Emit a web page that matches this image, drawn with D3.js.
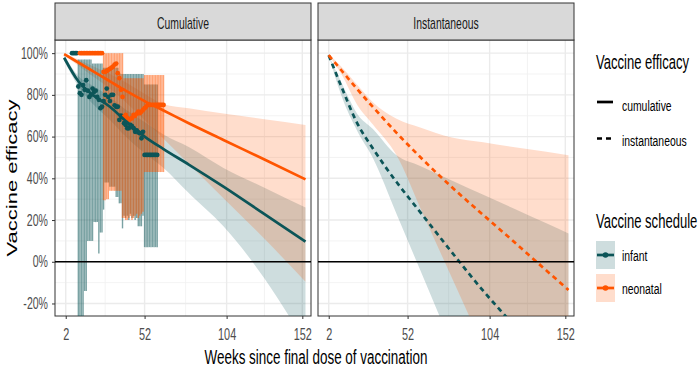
<!DOCTYPE html>
<html>
<head>
<meta charset="utf-8">
<script src="https://cdn.jsdelivr.net/npm/d3@7"></script>
<style>
  body { margin: 0; background: #fff; }
  text { font-family: "Liberation Sans", Arial, sans-serif; }
</style>
</head>
<body>
<svg id="chart" width="700" height="375"></svg>
<script>
// ---- data (percent vaccine efficacy by week since final dose) ----
const facets = ["Cumulative", "Instantaneous"];
const xTicks = [2, 52, 104, 152];
const yTicks = [-20, 0, 20, 40, 60, 80, 100];

// fitted cumulative curves
const cumWeek = [1, 10, 20, 30, 40, 52, 64, 80, 102, 128, 154];
const cumInfantEst = [97.8, 86.5, 79.5, 74.3, 67.5, 60, 54, 46.6, 36, 22.8, 9.6];
const cumInfantLow = [96.5, 84, 75, 68, 60, 52, 45, 33, 17, -8, -39];
const cumInfantHigh = [99, 89, 84, 79, 73, 67, 61, 55, 45, 35.5, 26];
const cumNeoEst = [99.5, 95.5, 91, 86.5, 82, 77, 72.5, 66.4, 58.4, 49, 39.5];
const cumNeoLow = [99, 94, 88.5, 83, 76.5, 68, 59, 47, 30.5, 11, -9.6];
const cumNeoHigh = [100, 97, 93.5, 90, 86, 80.5, 75.5, 73.6, 71.1, 68.3, 65.6];

// fitted instantaneous curves
const instWeek = [2, 10, 20, 30, 45, 60, 80, 100, 120, 140, 154];
const instInfantEst = [99, 84, 66.5, 54.3, 38.2, 23.8, 4.6, -14, -31, -48, -60];
const instInfantLow = [99, 79.7, 62.8, 49.7, 22.9, -4, -40, -76, -112, -148, -173];
const instInfantHigh = [99, 86, 71, 63.6, 51, 45.9, 39, 32.1, 25.3, 18.4, 13.6];
const instNeoEst = [99, 91.8, 82.8, 74.2, 61.8, 50.2, 35.8, 22.4, 9.2, -4.2, -13.5];
const instNeoLow = [99, 90, 75.3, 65.8, 51, 25.9, -7.6, -41, -75, -108, -132];
const instNeoHigh = [99.5, 93.5, 84.9, 76.5, 68.6, 64.4, 59.6, 57.3, 54.9, 52.7, 51];

// observed weekly estimates with intervals (cumulative panel)
const infantWeek = [6, 7, 8, 9, 10, 11, 12, 13, 14, 15, 16, 17, 18, 19, 20, 21, 22, 23, 24, 25,
  26, 27, 28, 29, 30, 31, 32, 33, 34, 35, 36, 37, 38, 39, 40, 41, 42, 43, 44, 45,
  46, 47, 48, 49, 50, 51, 52, 53, 54, 55, 56, 57, 58, 59, 60];
const infantEst = [100, 100, 100, 100, 84, 80.8, 80, 84.7, 82.4, 87, 82, 79, 80, 83, 81.5, 82, 79, 77.6, 73.6, 74.3,
  77, 80, 83, 79, 77, 80, 80, 75, 74.3, 74.3, 68, 70, 69.5, 66.4, 65.6, 64, 64, 65.6, 65, 64,
  62.3, 63, 62, 61.6, 59.2, 62.3, 51.2, 51.2, 51.2, 51.2, 51.2, 51.2, 51.2, 51.2, 51.2];
const infantLow = [100, 100, 100, 100, -30, -30, -30, -30, -14, -14, 10, 10, 10, 10, 19, 19, 19, 4, 14, 14,
  25, 38, 38, 38, 36, 36, 36, 36, 31, 31, 28, 28, 16, 22, 21, 22, 20, 23, 21, 22,
  20, 21, 17, 17, 17, 22, 7, 7, 7, 7, 7, 7, 7, 7, 7];
const infantHigh = [100, 100, 100, 100, 97, 97, 97, 97, 97, 97, 97, 97, 97, 95, 95, 95, 95, 95, 95, 95,
  93, 93, 93, 93, 93, 93, 93, 93, 93, 93, 90, 90, 90, 90, 90, 90, 90, 90, 90, 90,
  90, 90, 90, 90, 90, 90, 85, 85, 85, 85, 85, 85, 85, 85, 85];

const neoWeek = [11, 12, 13, 14, 15, 16, 17, 18, 19, 20, 21, 22, 23, 24, 25, 26, 27, 28, 29, 30,
  31, 32, 33, 34, 35, 36, 37, 38, 39, 40, 41, 42, 43, 44, 45, 46, 47, 48, 49, 50,
  51, 52, 53, 54, 55, 56, 57, 58, 59, 60, 61, 62, 63, 64];
const neoEst = [100, 100, 100, 100, 100, 100, 100, 100, 100, 100, 100, 100, 100, 100, 100, 91, 91, 91.5, 92, 92.5,
  93, 93.5, 94.5, 95, 90.4, 88, 82.4, 79, 69.5, 70.4, 69, 68, 68.5, 68.8, 70.4, 70, 71, 72, 71.2, 72,
  72.8, 73.6, 74.3, 75.2, 75.2, 75.2, 75.2, 75.2, 75.2, 75.2, 75.2, 75.2, 75.2, 75.2];
const neoLow = [100, 100, 100, 100, 100, 100, 100, 100, 100, 100, 100, 100, 100, 100, 100, 29.5, 29.5, 30, 30, 34,
  34, 34, 34, 34, 34, 34, 34, 21, 21, 20, 20, 21, 22, 20, 21, 22, 23, 21, 22, 23,
  24, 43, 43, 43, 43, 43, 43, 43, 43, 43, 43, 43, 43, 43];
const neoHigh = [100, 100, 100, 100, 100, 100, 100, 100, 100, 100, 100, 100, 100, 100, 100, 100, 100, 100, 100, 100,
  100, 100, 100, 100, 100, 100, 100, 100, 88, 88, 88, 88, 88, 88, 88, 88, 88, 88, 88, 88,
  88, 89.5, 89.5, 89.5, 89.5, 89.5, 89.5, 89.5, 89.5, 89.5, 89.5, 89.5, 89.5, 89.5];

const teal = "#0c5558";
const orange = "#ff5500";
const squeeze = 0.66; // reference text is horizontally narrow

const svg = d3.select("#chart");
const panelTop = 40, panelBottom = 316;

const xLeft = d3.scaleLinear().domain([-4.8, 157.5]).range([55, 311]);
const xRight = d3.scaleLinear().domain([-4.8, 157.5]).range([318, 574]);
const y = d3.scaleLinear().domain([-26, 106.3]).range([panelBottom, panelTop]);

function addText(parent, x, yPos, str, size, opts) {
  opts = opts || {};
  return parent.append("text")
    .attr("transform", "translate(" + x + "," + yPos + ") scale(" + (opts.sx || squeeze) + ",1)" + (opts.rotate ? " rotate(-90)" : ""))
    .attr("text-anchor", opts.anchor || "start")
    .attr("font-size", size)
    .attr("fill", opts.color || "#000")
    .text(str);
}

const defs = svg.append("defs");

function drawPanel(x, title, clipId) {
  const [x0, x1] = x.range();
  const g = svg.append("g");

  g.append("rect")
    .attr("x", x0).attr("y", panelTop)
    .attr("width", x1 - x0).attr("height", panelBottom - panelTop)
    .attr("fill", "#fff");

  // minor grid
  const minorX = d3.pairs(xTicks).map(p => (p[0] + p[1]) / 2);
  const minorY = d3.pairs(yTicks).map(p => (p[0] + p[1]) / 2);
  g.selectAll("line.minx").data(minorX).join("line")
    .attr("x1", d => x(d)).attr("x2", d => x(d))
    .attr("y1", panelTop).attr("y2", panelBottom)
    .attr("stroke", "#f0f0f0").attr("stroke-width", 0.8);
  g.selectAll("line.miny").data(minorY).join("line")
    .attr("x1", x0).attr("x2", x1)
    .attr("y1", d => y(d)).attr("y2", d => y(d))
    .attr("stroke", "#f0f0f0").attr("stroke-width", 0.8);
  // major grid
  g.selectAll("line.majx").data(xTicks).join("line")
    .attr("x1", d => x(d)).attr("x2", d => x(d))
    .attr("y1", panelTop).attr("y2", panelBottom)
    .attr("stroke", "#ebebeb").attr("stroke-width", 1.4);
  g.selectAll("line.majy").data(yTicks).join("line")
    .attr("x1", x0).attr("x2", x1)
    .attr("y1", d => y(d)).attr("y2", d => y(d))
    .attr("stroke", "#ebebeb").attr("stroke-width", 1.4);

  defs.append("clipPath").attr("id", clipId)
    .append("rect")
    .attr("x", x0).attr("y", panelTop)
    .attr("width", x1 - x0).attr("height", panelBottom - panelTop);

  const content = svg.append("g").attr("clip-path", "url(#" + clipId + ")");

  // strip
  svg.append("rect")
    .attr("x", x0).attr("y", 3)
    .attr("width", x1 - x0).attr("height", panelTop - 3)
    .attr("fill", "#d9d9d9").attr("stroke", "#333").attr("stroke-width", 1);
  addText(svg, (x0 + x1) / 2, 29, title, 16, {anchor: "middle", color: "#1a1a1a", sx: 0.65});

  // bottom axis
  const ax = svg.append("g")
    .attr("transform", "translate(0," + panelBottom + ")")
    .call(d3.axisBottom(x).tickValues(xTicks).tickSize(3));
  ax.select(".domain").remove();
  ax.selectAll("line").attr("stroke", "#333");
  ax.selectAll("text")
    .attr("y", 0)
    .attr("font-size", 16.5)
    .attr("font-family", "Liberation Sans, Arial, sans-serif")
    .attr("fill", "#4d4d4d")
    .attr("transform", "translate(0,12) scale(" + squeeze + ",1)");

  return {content: content, frame: () => g.append("rect")
    .attr("x", x0).attr("y", panelTop)
    .attr("width", x1 - x0).attr("height", panelBottom - panelTop)
    .attr("fill", "none").attr("stroke", "#333").attr("stroke-width", 1)};
}

function ribbon(g, x, weeks, low, high, color) {
  const area = d3.area()
    .x(d => x(d[0])).y0(d => y(d[1])).y1(d => y(d[2]))
    .curve(d3.curveMonotoneX);
  g.append("path").datum(d3.zip(weeks, low, high))
    .attr("d", area).attr("fill", color).attr("fill-opacity", 0.2);
}

function curve(g, x, weeks, est, color, dashed) {
  const line = d3.line()
    .x(d => x(d[0])).y(d => y(d[1]))
    .curve(d3.curveMonotoneX);
  g.append("path").datum(d3.zip(weeks, est))
    .attr("d", line).attr("fill", "none")
    .attr("stroke", color).attr("stroke-width", 2.7)
    .attr("stroke-dasharray", dashed ? "5,4" : null);
}

function pointRange(g, x, weeks, est, low, high, color) {
  const rows = d3.zip(weeks, est, low, high);
  g.append("g").selectAll("line").data(rows).join("line")
    .attr("x1", d => x(d[0])).attr("x2", d => x(d[0]))
    .attr("y1", d => y(d[2])).attr("y2", d => y(d[3]))
    .attr("stroke", color).attr("stroke-width", 1.4).attr("stroke-opacity", 0.55);
  return rows;
}

function points(g, x, rows, color) {
  g.append("g").selectAll("circle").data(rows).join("circle")
    .attr("cx", d => x(d[0])).attr("cy", d => y(d[1]))
    .attr("r", 2.4).attr("fill", color);
}

// ---- left panel: cumulative ----
const left = drawPanel(xLeft, facets[0], "clipLeft");
ribbon(left.content, xLeft, cumWeek, cumInfantLow, cumInfantHigh, teal);
ribbon(left.content, xLeft, cumWeek, cumNeoLow, cumNeoHigh, orange);
const infRows = pointRange(left.content, xLeft, infantWeek, infantEst, infantLow, infantHigh, teal);
const neoRows = pointRange(left.content, xLeft, neoWeek, neoEst, neoLow, neoHigh, orange);
points(left.content, xLeft, infRows, teal);
points(left.content, xLeft, neoRows, orange);
curve(left.content, xLeft, cumWeek, cumInfantEst, teal, false);
curve(left.content, xLeft, cumWeek, cumNeoEst, orange, false);
left.content.append("line")
  .attr("x1", 55).attr("x2", 311).attr("y1", y(0)).attr("y2", y(0))
  .attr("stroke", "#000").attr("stroke-width", 1.4);
left.frame();

// ---- right panel: instantaneous ----
const right = drawPanel(xRight, facets[1], "clipRight");
ribbon(right.content, xRight, instWeek, instInfantLow, instInfantHigh, teal);
ribbon(right.content, xRight, instWeek, instNeoLow, instNeoHigh, orange);
curve(right.content, xRight, instWeek, instInfantEst, teal, true);
curve(right.content, xRight, instWeek, instNeoEst, orange, true);
right.content.append("line")
  .attr("x1", 318).attr("x2", 574).attr("y1", y(0)).attr("y2", y(0))
  .attr("stroke", "#000").attr("stroke-width", 1.4);
right.frame();

// ---- y axis ----
const gy = svg.append("g")
  .attr("transform", "translate(55,0)")
  .call(d3.axisLeft(y).tickValues(yTicks).tickFormat(d => d + "%").tickSize(3));
gy.select(".domain").remove();
gy.selectAll("line").attr("stroke", "#333");
gy.selectAll("text")
  .attr("x", 0)
  .attr("font-size", 16)
  .attr("font-family", "Liberation Sans, Arial, sans-serif")
  .attr("fill", "#4d4d4d")
  .attr("transform", "translate(-7,0) scale(" + squeeze + ",1)");

// axis titles
addText(svg, 316, 364, "Weeks since final dose of vaccination", 21, {anchor: "middle", sx: 0.64});
addText(svg, 17, 178, "Vaccine efficacy", 22, {anchor: "middle", rotate: true, sx: 0.67});

// ---- legends ----
const leg = svg.append("g");
addText(leg, 596, 69, "Vaccine efficacy", 19.5, {sx: 0.67});
leg.append("line").attr("x1", 597).attr("x2", 613).attr("y1", 102).attr("y2", 102)
  .attr("stroke", "#000").attr("stroke-width", 2.7);
addText(leg, 622, 110.5, "cumulative", 15.5, {sx: 0.67});
leg.append("line").attr("x1", 597).attr("x2", 614).attr("y1", 138.5).attr("y2", 138.5)
  .attr("stroke", "#000").attr("stroke-width", 2.7).attr("stroke-dasharray", "5,4");
addText(leg, 622, 146, "instantaneous", 15.5, {sx: 0.67});

addText(leg, 596, 227.5, "Vaccine schedule", 19.5, {sx: 0.67});
const schedules = [
  {name: "infant", color: teal, top: 241},
  {name: "neonatal", color: orange, top: 274}
];
schedules.forEach(s => {
  const mid = s.top + 14;
  leg.append("rect").attr("x", 596).attr("y", s.top).attr("width", 19).attr("height", 28)
    .attr("fill", s.color).attr("fill-opacity", 0.2);
  leg.append("line").attr("x1", 597).attr("x2", 614).attr("y1", mid).attr("y2", mid)
    .attr("stroke", s.color).attr("stroke-width", 2.7);
  leg.append("circle").attr("cx", 605.5).attr("cy", mid).attr("r", 2.8).attr("fill", s.color);
  addText(leg, 622, mid + 6, s.name, 15.5, {sx: 0.67});
});
</script>
</body>
</html>
